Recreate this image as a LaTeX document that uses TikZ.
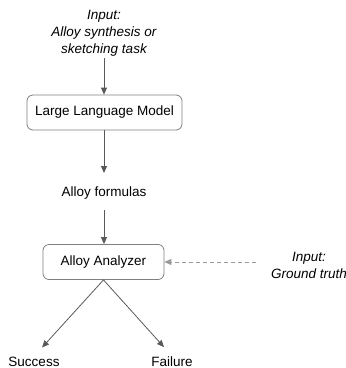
\documentclass[tikz,border=0pt]{standalone}
\usepackage{fontspec}
\setmainfont{Liberation Sans}
\usetikzlibrary{arrows.meta}
\definecolor{arrowgray}{HTML}{595959}
\definecolor{boxgray}{HTML}{7F7F7F}
\definecolor{dashgray}{HTML}{9A9A9A}
\begin{document}
\begin{tikzpicture}[x=1pt,y=-1pt,
  txt/.style={inner sep=0pt,font=\fontsize{13.5pt}{17pt}\selectfont,align=center},
  itxt/.style={txt,font=\fontsize{13.5pt}{17pt}\selectfont\itshape},
  procbox/.style={draw=boxgray,line width=0.8pt,rounded corners=6pt,inner sep=0pt,font=\fontsize{13.5pt}{17pt}\selectfont},
  conn/.style={draw=arrowgray,line width=0.8pt,-{Triangle[length=7pt,width=6pt]}},
  dconn/.style={draw=dashgray,line width=0.8pt,dashed,dash pattern=on 4pt off 3pt,-{Triangle[length=7pt,width=6pt]}}
]
\useasboundingbox (0,0) rectangle (346,368);
\node[itxt,anchor=south] (in) at (104,56) {Input:\\Alloy synthesis or\\sketching task};
\node[procbox,minimum width=155pt,minimum height=35pt] (llm) at (104.5,112.5) {Large Language Model};
\node[txt,anchor=base] (af) at (104,196) {Alloy formulas};
\node[procbox,minimum width=121pt,minimum height=35pt] (an) at (103.5,262) {Alloy Analyzer};
\node[itxt] (gt) at (309,265) {Input:\\Ground truth};
\node[txt,anchor=base] (su) at (34,366) {Success};
\node[txt,anchor=base] (fa) at (172,366) {Failure};
\draw[conn,shorten <=2pt] (in.south) -- (llm.north -| in.south);
\draw[conn,shorten >=13pt] (llm.south -| af.north) -- (af.north);
\draw[conn,shorten <=11pt] (af.south) -- (an.north -| af.south);
\draw[dconn,shorten <=15pt] (gt.west |- an.east) -- (an.east);
\draw[conn,shorten >=12pt] (an.south) -- (su.north);
\draw[conn,shorten >=12pt] (an.south) -- (fa.north);
\end{tikzpicture}
\end{document}
